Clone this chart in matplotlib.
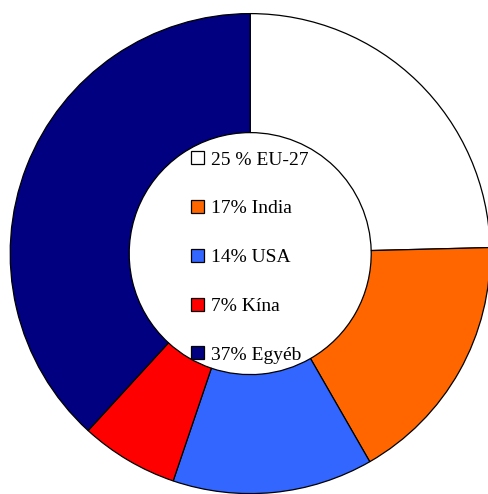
import matplotlib
matplotlib.use("Agg")
import matplotlib.pyplot as plt

labels = ["25 % EU-27", "17% India", "14% USA", "7% Kína", "37% Egyéb"]
values = [24.6, 17.1, 13.5, 6.6, 38.2]
colors = ["#FFFFFF", "#FF6600", "#3366FF", "#FF0000", "#000080"]

plt.rcParams['font.family'] = ['Liberation Serif', 'DejaVu Serif']

fig = plt.figure(figsize=(4.89, 4.94), dpi=100)
ax = fig.add_axes([0, 0, 1, 1])
cx, cy = 250.2, 494 - 253.6
R = 240
wedges, _ = ax.pie(values, colors=colors, startangle=90, counterclock=False,
                   radius=R, center=(cx, cy),
                   wedgeprops=dict(width=R - 121, edgecolor='black', linewidth=0.9))
ax.set_xlim(0, 489)
ax.set_ylim(0, 494)
ax.set_aspect('equal')
ax.axis('off')

leg = fig.legend(wedges, labels, loc='center',
                 bbox_to_anchor=(250 / 489, 1 - 257.5 / 494),
                 frameon=False, fontsize=14, handlelength=0.65, handleheight=0.65,
                 handletextpad=0.35, labelspacing=1.62, borderpad=0)
for h in leg.legend_handles:
    h.set_edgecolor('black')
    h.set_linewidth(0.9)

fig.savefig("out.png", dpi=100)
